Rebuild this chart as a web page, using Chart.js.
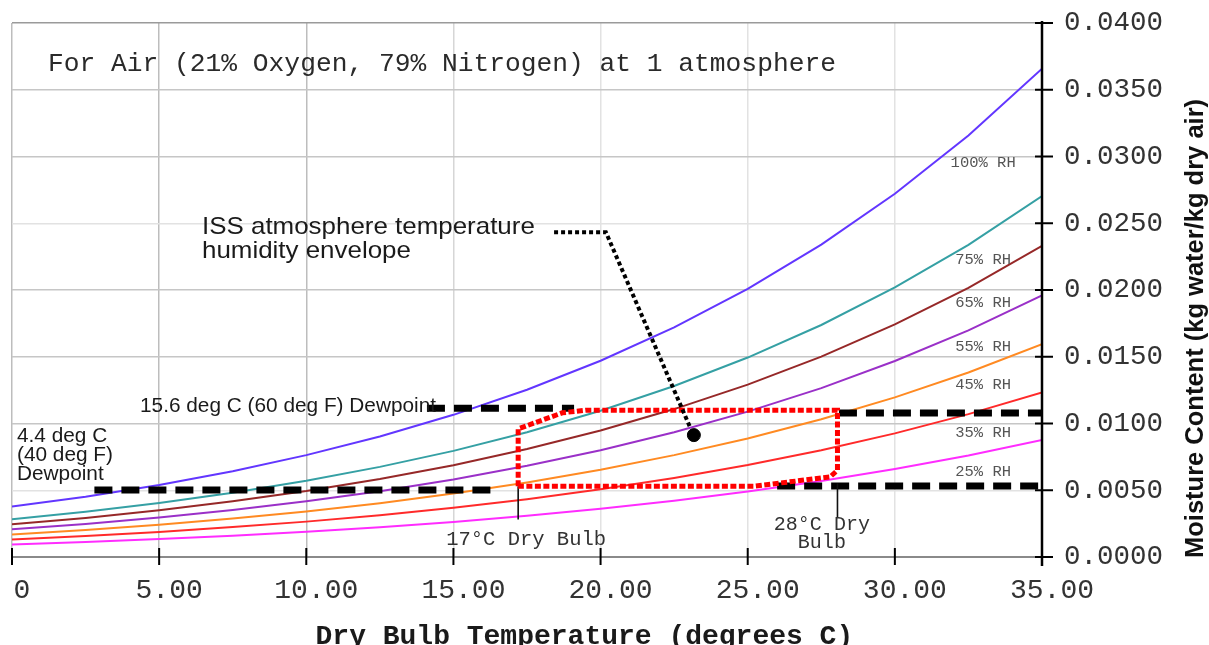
<!DOCTYPE html>
<html><head><meta charset="utf-8">
<script src="https://cdn.jsdelivr.net/npm/chart.js@4/dist/chart.umd.min.js"></script>
<style>html,body{margin:0;padding:0;background:#fff;overflow:hidden}canvas{display:block}</style>
</head><body>
<canvas id="c" width="1209" height="645"></canvas>
<script>
// ---- data ----
const temps = [0, 2.5, 5, 7.5, 10, 12.5, 15, 17.5, 20, 22.5, 25, 27.5, 30, 32.5, 35];
const rh100 = [0.00378, 0.00452, 0.00540, 0.00643, 0.00763, 0.00903, 0.01065, 0.01253, 0.01470, 0.01720, 0.02009, 0.02340, 0.02721, 0.03157, 0.03658];
const rh75  = [0.00283, 0.00339, 0.00404, 0.00481, 0.00571, 0.00675, 0.00795, 0.00935, 0.01096, 0.01281, 0.01494, 0.01738, 0.02019, 0.02338, 0.02704];
const rh65  = [0.00245, 0.00293, 0.00350, 0.00417, 0.00494, 0.00584, 0.00688, 0.00809, 0.00948, 0.01108, 0.01291, 0.01501, 0.01742, 0.02016, 0.02330];
const rh55  = [0.00207, 0.00248, 0.00296, 0.00352, 0.00417, 0.00493, 0.00581, 0.00683, 0.00800, 0.00935, 0.01089, 0.01265, 0.01468, 0.01697, 0.01960];
const rh45  = [0.00169, 0.00203, 0.00242, 0.00288, 0.00341, 0.00403, 0.00475, 0.00558, 0.00653, 0.00763, 0.00888, 0.01032, 0.01196, 0.01382, 0.01595];
const rh35  = [0.00132, 0.00158, 0.00188, 0.00224, 0.00265, 0.00313, 0.00369, 0.00433, 0.00507, 0.00592, 0.00689, 0.00799, 0.00926, 0.01070, 0.01233];
const rh25  = [0.00094, 0.00113, 0.00134, 0.00160, 0.00189, 0.00223, 0.00263, 0.00309, 0.00361, 0.00421, 0.00490, 0.00569, 0.00659, 0.00760, 0.00876];
const rhNames = ['100% RH', '75% RH', '65% RH', '55% RH', '45% RH', '35% RH', '25% RH'];

// dewpoint guide lines (15.6 C / 4.4 C)
const dewHiLeftX  = [14.1, 19.1];  const dewHiLeftY  = [0.01115, 0.01115];
const dewHiRightX = [28.1, 35.0];  const dewHiRightY = [0.01078, 0.01078];
const dewLoLeftX  = [2.8, 16.5];   const dewLoLeftY  = [0.00501, 0.00501];
const dewLoRightX = [26.0, 35.0];  const dewLoRightY = [0.00531, 0.00531];

// ISS envelope outline
const envX = [17.2, 17.2, 18.7, 19.5, 28.05, 28.05, 27.8, 25.2, 17.2];
const envY = [0.0053, 0.0096, 0.0108, 0.0110, 0.0110, 0.0065, 0.0060, 0.0053, 0.0053];

// dry bulb markers
const bulb17X = [17.2, 17.2]; const bulb17Y = [0.0053, 0.0028];
const bulb28X = [28.05, 28.05]; const bulb28Y = [0.0055, 0.0030];

// leader + dot
const leaderX = [18.42, 20.18, 23.04]; const leaderY = [0.02433, 0.02433, 0.00973];
const dotX = [23.17]; const dotY = [0.00913];

const xTickLabels = ['0', '5.00', '10.00', '15.00', '20.00', '25.00', '30.00', '35.00'];
const yTickLabels = ['0.0000', '0.0050', '0.0100', '0.0150', '0.0200', '0.0250', '0.0300', '0.0350', '0.0400'];

// ---- helpers ----
const pts = (xs, ys) => xs.map((x, i) => ({x: x, y: ys[i]}));
const curveColors = ['#6236ff', '#35a0a4', '#962828', '#9a30c8', '#ff8a22', '#ff2a2a', '#ff2cff'];
const curves = [rh100, rh75, rh65, rh55, rh45, rh35, rh25];

const datasets = curves.map((c, i) => ({
  label: rhNames[i], data: pts(temps, c), showLine: true, borderColor: curveColors[i],
  borderWidth: 2, pointRadius: 0, tension: 0, order: 10
}));
const dashed = (xs, ys) => ({data: pts(xs, ys), showLine: true, borderColor: '#000', borderWidth: 7,
  borderDash: [18, 9], pointRadius: 0, order: 5});
datasets.push(dashed(dewHiLeftX, dewHiLeftY), dashed(dewHiRightX, dewHiRightY),
              dashed(dewLoLeftX, dewLoLeftY), dashed(dewLoRightX, dewLoRightY));
datasets.push({data: pts(envX, envY), showLine: true, borderColor: '#ff0000', borderWidth: 5,
  borderDash: [6, 2.5], pointRadius: 0, order: 3});
datasets.push({data: pts(bulb17X, bulb17Y), showLine: true, borderColor: '#111', borderWidth: 1.6, pointRadius: 0, order: 4});
datasets.push({data: pts(bulb28X, bulb28Y), showLine: true, borderColor: '#111', borderWidth: 1.6, pointRadius: 0, order: 4});
datasets.push({data: pts(leaderX, leaderY), showLine: true, borderColor: '#000', borderWidth: 4,
  borderDash: [4, 3], pointRadius: 0, order: 2});
datasets.push({data: pts(dotX, dotY), showLine: false, pointRadius: 6.5, pointBackgroundColor: '#000',
  pointBorderColor: '#000', order: 1});

// text annotations in data coordinates
const rhLabelX = 33.0;
const rhLabelY = [0.02949, 0.02223, 0.01901, 0.01572, 0.01287, 0.00928, 0.00636];

const MONO = '"Liberation Mono", "Courier New", monospace';
const SANS = '"Liberation Sans", Arial, sans-serif';

function drawText(ctx, s, x, y, font, color, align, baseline, sx) {
  ctx.save();
  ctx.font = font; ctx.fillStyle = color; ctx.textAlign = align; ctx.textBaseline = baseline || 'alphabetic';
  ctx.translate(x, y); ctx.scale(sx || 1, 1); ctx.fillText(s, 0, 0);
  ctx.restore();
}

const decor = {
  id: 'decor',
  afterDraw(chart) {
    const ctx = chart.ctx, xs = chart.scales.x, ys = chart.scales.y, a = chart.chartArea;
    const X = v => xs.getPixelForValue(v), Y = v => ys.getPixelForValue(v);
    // right axis line + ticks
    ctx.save();
    ctx.strokeStyle = '#000'; ctx.lineWidth = 2.5;
    ctx.beginPath(); ctx.moveTo(a.right, a.top - 2); ctx.lineTo(a.right, a.bottom + 9); ctx.stroke();
    ctx.lineWidth = 2;
    ys.ticks.forEach(t => { const y = Y(t.value); ctx.beginPath(); ctx.moveTo(a.right - 7, y); ctx.lineTo(a.right + 11, y); ctx.stroke(); });
    xs.ticks.forEach(t => { const x = X(t.value); if (t.value >= 35) return; ctx.beginPath(); ctx.moveTo(x, a.bottom - 9); ctx.lineTo(x, a.bottom + 8); ctx.stroke(); });
    ctx.restore();

    // title
    drawText(ctx, 'For Air (21% Oxygen, 79% Nitrogen) at 1 atmosphere', X(1.223), Y(0.03638), '26px ' + MONO, '#2a2a2a', 'left', 'alphabetic', 1.01);
    // RH labels
    rhNames.forEach((n, i) => drawText(ctx, n, X(rhLabelX), Y(rhLabelY[i]), '15.5px ' + MONO, '#555', 'center', 'middle'));
    // ISS annotation
    drawText(ctx, 'ISS atmosphere temperature', X(6.456), Y(0.02418), '24px ' + SANS, '#1a1a1a', 'left', 'alphabetic', 1.08);
    drawText(ctx, 'humidity envelope', X(6.456), Y(0.02418) + 24, '24px ' + SANS, '#1a1a1a', 'left', 'alphabetic', 1.08);
    // dewpoints
    drawText(ctx, '15.6 deg C (60 deg F) Dewpoint', X(4.35), Y(0.01085), '20px ' + SANS, '#1a1a1a', 'left', 'alphabetic', 1.04);
    ['4.4 deg C', '(40 deg F)', 'Dewpoint'].forEach((s, i) =>
      drawText(ctx, s, X(0.17), Y(0.00861) + i * 19, '20px ' + SANS, '#1a1a1a', 'left', 'alphabetic', 1.04));
    // dry bulb labels
    drawText(ctx, '17°C Dry Bulb', X(17.47), Y(0.0009), '20.5px ' + MONO, '#333', 'center');
    drawText(ctx, '28°C Dry', X(27.52), Y(0.00202), '20px ' + MONO, '#333', 'center');
    drawText(ctx, 'Bulb', X(27.52), Y(0.00202) + 18, '20px ' + MONO, '#333', 'center');

    // axis titles
    drawText(ctx, 'Dry Bulb Temperature (degrees C)', X(19.45), a.bottom + 87, 'bold 28px ' + MONO, '#1a1a1a', 'center');
    ctx.save();
    ctx.translate(1196, a.bottom + 1); ctx.rotate(-Math.PI / 2);
    ctx.font = 'bold 25.5px ' + SANS; ctx.fillStyle = '#111'; ctx.textAlign = 'left'; ctx.textBaseline = 'middle';
    ctx.fillText('Moisture Content (kg water/kg dry air)', 0, 0);
    ctx.restore();
  }
};

const xGrid = ['#bdbdbd', '#bdbdbd', '#bdbdbd', '#d6d6d6', '#e2e2e2', '#e2e2e2', '#e2e2e2', 'rgba(0,0,0,0)'];
const yGrid = ['rgba(0,0,0,0)', '#e2e2e2', '#c6c6c6', '#c6c6c6', '#c6c6c6', '#e2e2e2', '#c6c6c6', '#c6c6c6', '#9a9a9a'];
const noPad = s => { s.paddingLeft = 0; s.paddingRight = 0; s.paddingTop = 0; s.paddingBottom = 0; };

new Chart(document.getElementById('c'), {
  type: 'scatter',
  data: {datasets: datasets},
  options: {
    responsive: false, animation: false, devicePixelRatio: 1,
    layout: {padding: {left: 12, top: 23, right: 0, bottom: 0}},
    plugins: {legend: {display: false}, tooltip: {enabled: false}},
    elements: {line: {borderCapStyle: 'butt'}},
    scales: {
      x: {
        type: 'linear', min: 0, max: 35,
        afterFit: s => { s.height = 88; noPad(s); },
        ticks: {stepSize: 5, autoSkip: false, maxRotation: 0, padding: 17, labelOffset: 10,
          color: '#333', font: {family: MONO, size: 28},
          callback: (v, i) => xTickLabels[i]},
        grid: {drawTicks: false, lineWidth: 1.5, color: c => xGrid[c.index]},
        border: {color: '#8a8a8a', width: 2}
      },
      y: {
        type: 'linear', position: 'right', min: 0, max: 0.04,
        afterFit: s => { s.width = 167; noPad(s); },
        ticks: {stepSize: 0.005, autoSkip: false, padding: 22, color: '#333',
          font: {family: MONO, size: 27.5}, callback: (v, i) => yTickLabels[i]},
        grid: {drawTicks: false, lineWidth: 1.5, color: c => yGrid[c.index]},
        border: {display: false}
      }
    }
  },
  plugins: [decor]
});
</script>
</body></html>
